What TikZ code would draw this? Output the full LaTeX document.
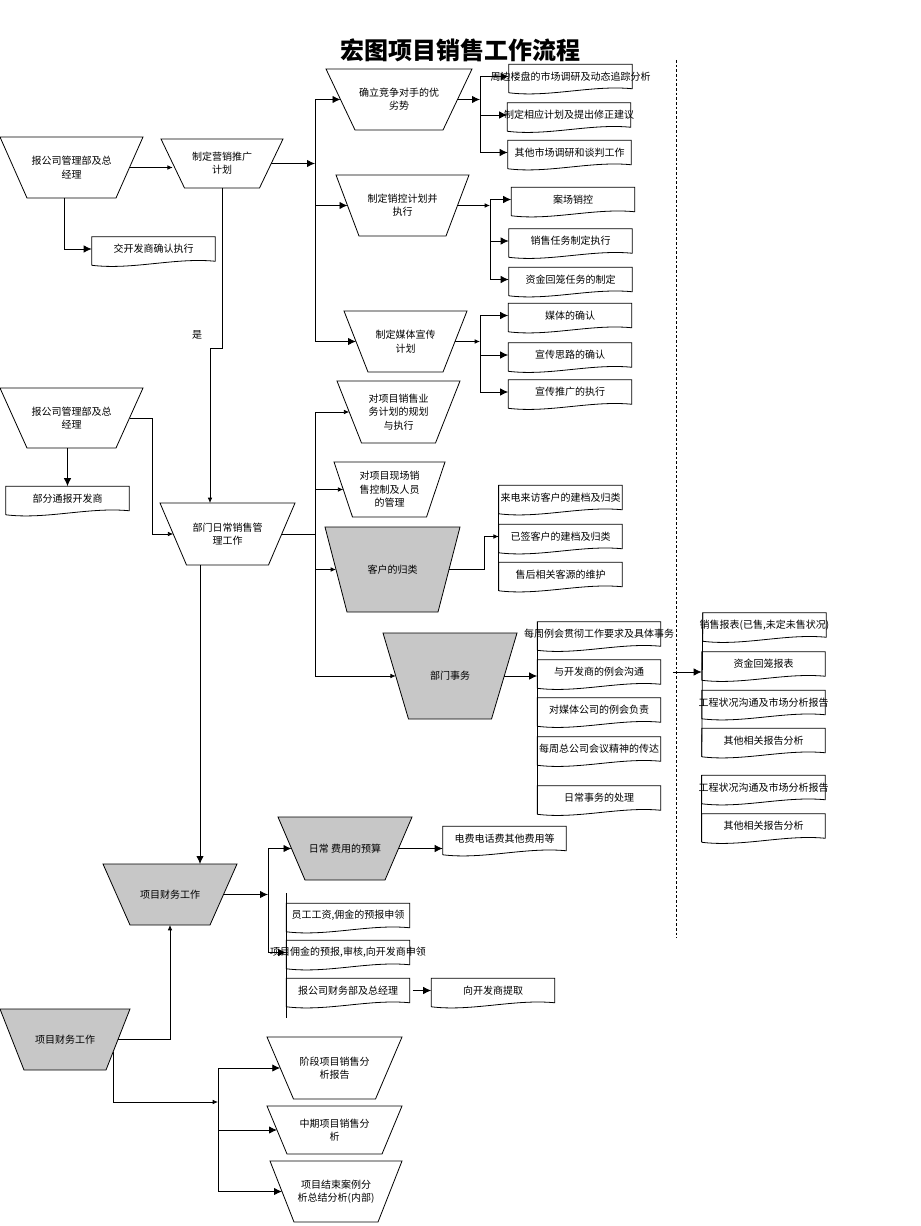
\documentclass[tikz,border=0pt]{standalone}
\usepackage{fontspec}
\setmainfont{Noto Sans CJK SC}
\usetikzlibrary{arrows.meta,calc}

\tikzset{
  ln/.style={line width=.6pt},
  arr/.style={ln,-{Latex[length=6pt,width=5.5pt]}},
  sarr/.style={ln,-{Latex[length=4pt,width=3.5pt]}},
  greybox/.style={fill=black!22},
  doc/.style={rectangle, minimum width=92.25pt, minimum height=18pt, inner sep=0pt},
  every node/.style={font=\fontsize{7.5}{10}\selectfont},
}
% name, centre x, centre y, top width, bottom width, height, text
\newcommand{\trapnode}[8][]{%
  \draw[ln,#1] (#3-#5/2,#4-#7/2) -- (#3+#5/2,#4-#7/2) -- (#3+#6/2,#4+#7/2) -- (#3-#6/2,#4+#7/2) -- cycle;
  \node[align=center] (#2) at (#3,#4) {#8};
  \coordinate (#2-w) at (#3-#5/4-#6/4,#4);
  \coordinate (#2-e) at (#3+#5/4+#6/4,#4);
  \coordinate (#2-n) at (#3,#4-#7/2);
  \coordinate (#2-s) at (#3,#4+#7/2);
}
\newcommand{\docnode}[3]{%
  \node[doc] (#1) at (#2) {\makebox[0pt]{#3}};
  \draw[ln] ($(#1.south west)+(0,4)$) -- (#1.north west) -- (#1.north east) -- (#1.south east)
    .. controls +(-40,-4) and +(40,5) .. ($(#1.south west)+(0,4)$);
}

\begin{document}
\begin{tikzpicture}[x=.75pt,y=-.75pt]
\useasboundingbox (0,0) rectangle (920,1226);

\node[font=\fontsize{18}{20}\selectfont\bfseries] (title) at (460,50) {宏图项目销售工作流程};
\draw[ln,dash pattern=on 2pt off 1.5pt] (676,60) -- (676,938);

% trapezia
\trapnode{A1}{71.5}{167.5}{143}{89}{61}{报公司管理部及总\\经理}
\trapnode{B}{222}{163.5}{122}{75}{49}{制定营销推广\\计划}
\trapnode{C1}{399}{99.5}{146}{88}{61}{确立竞争对手的优\\劣势}
\trapnode{C2}{402.5}{205.5}{133}{87}{61}{制定销控计划并\\执行}
\trapnode{C3}{405.5}{341.5}{123}{75}{61}{制定媒体宣传\\计划}
\trapnode{G1}{398.5}{412}{123}{74}{62}{对项目销售业\\务计划的规划\\与执行}
\trapnode{G2}{389.5}{489.5}{111}{74}{55}{对项目现场销\\售控制及人员\\的管理}
\trapnode[greybox]{G3}{392.5}{569.5}{135}{91}{85}{客户的归类}
\trapnode[greybox]{K}{450}{676}{134}{83}{86}{部门事务}
\trapnode{M}{227.5}{534}{135}{82}{62}{部门日常销售管\\理工作}
\trapnode{A2}{71.5}{418}{143}{89}{60}{报公司管理部及总\\经理}
\trapnode[greybox]{P}{170}{894.5}{134}{80}{61}{项目财务工作}
\trapnode[greybox]{Q}{345}{848.5}{134}{80}{63}{日常 费用的预算}
\trapnode[greybox]{S}{65}{1039.5}{130}{82}{61}{项目财务工作}
\trapnode{T1}{334.5}{1068}{135}{82}{62}{阶段项目销售分\\析报告}
\trapnode{T2}{334.5}{1130}{135}{95}{48}{中期项目销售分\\析}
\trapnode{T3}{336}{1191.5}{132}{84}{61}{项目结束案例分\\析总结分析(内部)}

% documents
\docnode{D0}{153.5,249}{交开发商确认执行}
\docnode{D1}{570.5,76.5}{周边楼盘的市场调研及动态追踪分析}
\docnode{D2}{569,115}{制定相应计划及提出修正建议}
\docnode{D3}{569.5,152.5}{其他市场调研和谈判工作}
\docnode{E1}{573,199.5}{案场销控}
\docnode{E2}{570.5,241}{销售任务制定执行}
\docnode{E3}{570.5,279.5}{资金回笼任务的制定}
\docnode{F1}{570,315.5}{媒体的确认}
\docnode{F2}{570,355}{宣传思路的确认}
\docnode{F3}{570,392}{宣传推广的执行}
\docnode{D4}{67.5,498.5}{部分通报开发商}
\docnode{H1}{560.5,497.5}{来电来访客户的建档及归类}
\docnode{H2}{560.5,536.5}{已签客户的建档及归类}
\docnode{H3}{560.5,574.5}{售后相关客源的维护}
\docnode{L1}{599,634}{每周例会贯彻工作要求及具体事务}
\docnode{L2}{599,672}{与开发商的例会沟通}
\docnode{L3}{599,710}{对媒体公司的例会负责}
\docnode{L4}{599,749}{每周总公司会议精神的传达}
\docnode{L5}{599,798}{日常事务的处理}
\docnode{N1}{764.5,625}{销售报表(已售,未定未售状况)}
\docnode{N2}{763.5,664}{资金回笼报表}
\docnode{N3}{763.5,702.5}{工程状况沟通及市场分析报告}
\docnode{N4}{763.5,740.5}{其他相关报告分析}
\docnode{N5}{763.5,787.5}{工程状况沟通及市场分析报告}
\docnode{N6}{763.5,826}{其他相关报告分析}
\docnode{R0}{504.5,838.5}{电费电话费其他费用等}
\docnode{R1}{348,915.5}{员工工资,佣金的预报申领}
\docnode{R2}{348,952.5}{项目佣金的预报,审核,向开发商申领}
\docnode{R3}{348,990.5}{报公司财务部及总经理}
\docnode{R4}{493,990.5}{向开发商提取}

% marketing plan
\draw[sarr] (A1-e) -- (A1-e -| B-w);
\draw[arr] ($(A1-s)+(-7,0)$) |- (D0.west);
\coordinate (bus1) at (315,166);
\draw[arr] (B-e) -- (B-e -| bus1);
\draw[ln] (bus1 |- C1-w) -- (bus1 |- C3-w);
\foreach \n in {C1,C2,C3} \draw[arr] (bus1 |- \n-w) -- (\n-w);

\coordinate (busD) at (480,0);
\draw[arr] (C1-e) -- (C1-e -| busD);
\draw[ln] (busD |- D1.west) -- (busD |- D3.west);
\foreach \n in {D1,D2,D3} \draw[arr] (busD |- \n.west) -- (\n.west);

\coordinate (busE) at (490,0);
\draw[sarr] (C2-e) -- (C2-e -| busE);
\draw[ln] (busE |- E1.west) -- (busE |- E3.west);
\foreach \n in {E1,E2,E3} \draw[arr] (busE |- \n.west) -- (\n.west);

\coordinate (busF) at (480,0);
\draw[sarr] (C3-e) -- (C3-e -| busF);
\draw[ln] (busF |- F1.west) -- (busF |- F3.west);
\foreach \n in {F1,F2,F3} \draw[arr] (busF |- \n.west) -- (\n.west);

% daily sales management
\draw[sarr] (B-s) -- ++(0,160) -| ($(M-n)+(-17.5,0)$);
\node (yes) at (197,335) {是};
\draw[sarr] (A2-e) -- ++(23,0) |- (M-w);
\draw[arr] (A2-s -| D4.north) -- (D4.north);

\coordinate (bus2) at (315,0);
\draw[ln] (M-e) -- (M-e -| bus2);
\draw[ln] (bus2 |- G1-w) -- (bus2 |- K-w);
\foreach \n in {G1,G2,G3,K} \draw[sarr] (bus2 |- \n-w) -- (\n-w);
\draw[sarr] (G3-e) -- ++(35,0) |- (H2.west);
\draw[ln] (H1.north west) -- ($(H3.south west)+(0,4)$);

\draw[arr] (K-e) -- (K-e -| L2.west);
\draw[ln] (L1.north west) -- ($(L5.south west)+(0,4)$);
\draw[arr] ($(L2.east)+(12,0)$) -- (L2.east -| N2.west);
\draw[ln] (N1.north west) -- ($(N4.south west)+(0,4)$);
\draw[ln] (N5.north west) -- ($(N6.south west)+(0,4)$);

% finance
\draw[arr] ($(M-s)+(-27.5,0)$) coordinate (mp) -- (mp |- P-n);
\coordinate (bus3) at (268,0);
\draw[arr] (P-e) -- (P-e -| bus3);
\draw[ln] (bus3 |- Q-w) -- (bus3 |- R2.west);
\draw[arr] (bus3 |- Q-w) -- (Q-w);
\draw[arr] (bus3 |- R2.west) -- (R2.west);
\draw[ln] ($(R1.north west)+(0,-10)$) -- ($(R3.south west)+(0,15)$);
\draw[arr] (Q-e) -- (Q-e -| R0.west);
\draw[arr] ($(R3.east)+(3,0)$) -- (R4.west);

\draw[sarr] (S-e) -| (P-s);
\coordinate (bus4) at (218,1102);
\draw[sarr] ($(S-e)+(-5,12)$) |- (bus4);
\draw[ln] (bus4 |- T1-w) -- (bus4 |- T3-w);
\foreach \n in {T1,T2,T3} \draw[arr] (bus4 |- \n-w) -- (\n-w);
\end{tikzpicture}
\end{document}
